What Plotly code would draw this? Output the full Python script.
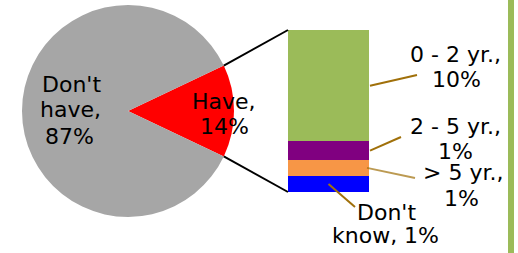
import math
import plotly.graph_objects as go

# ---- data ----
pie_labels = ["Have", "Don't have"]
pie_values = [14.1, 86.0]
pie_text = ["Have,<br>14%", "Don't<br>have,<br>87%"]
pie_colors = ["#FF0000", "#A6A6A6"]

bar_labels = ["Don't know", "> 5 yr.", "2 - 5 yr.", "0 - 2 yr."]
bar_values = [1.4, 1.4, 1.6, 9.7]
bar_text = ["Don't<br>know, 1%", "> 5 yr.,<br>1%", "2 - 5 yr.,<br>1%", "0 - 2 yr.,<br>10%"]
bar_colors = ["#0000FF", "#F79646", "#800080", "#9BBB59"]

W, H = 518, 253
FONT = dict(family="DejaVu Sans, Verdana, sans-serif", size=22, color="#000000")

def px(x):
    return x / W

def py(y):
    return 1 - y / H

# layout geometry (pixels)
cx, cy, R = 128, 111, 106
bx0, bx1, by_top, by_bot = 288, 369, 30, 192

total = sum(pie_values)
half = 360 * pie_values[0] / total / 2

fig = go.Figure()
fig.add_trace(go.Pie(
    labels=pie_labels, values=pie_values, sort=False, direction="clockwise",
    rotation=90 - half, marker=dict(colors=pie_colors), textinfo="none",
    hoverinfo="label+percent", showlegend=False,
    domain=dict(x=[px(cx - R), px(cx + R)], y=[py(cy + R), py(cy - R)]),
))

for lab, v, c in zip(bar_labels, bar_values, bar_colors):
    fig.add_trace(go.Bar(x=[0], y=[v], name=lab, marker=dict(color=c, line=dict(width=0)),
                         width=1, showlegend=False, xaxis="x", yaxis="y"))

bar_total = sum(bar_values)

def bar_y(v):
    return by_bot - (by_bot - by_top) * v / bar_total

shapes = []
# connector lines pie -> bar
a = math.radians(half)
ex = cx + R * math.cos(a)
for sgn, ty in ((1, by_top), (-1, by_bot)):
    ey = cy - sgn * R * math.sin(a)
    shapes.append(dict(type="line", xref="paper", yref="paper",
                       x0=px(ex), y0=py(ey), x1=px(bx0), y1=py(ty),
                       line=dict(color="#000000", width=2)))

# leader lines
cum = 0
mids = []
for v in bar_values:
    mids.append(bar_y(cum + v / 2))
    cum += v

leader_ends = [(355, 207), (415, 178), (401, 137), (417, 75)]
leader_starts_x = [(bx0 + bx1) / 2, bx1 - 2, bx1 + 1, bx1 + 1]
leader_opacity = [1, 0.7, 1, 1]
for i in range(4):
    shapes.append(dict(type="line", xref="paper", yref="paper",
                       x0=px(leader_starts_x[i]), y0=py(mids[i]),
                       x1=px(leader_ends[i][0]), y1=py(leader_ends[i][1]),
                       opacity=leader_opacity[i],
                       line=dict(color="#A0700A", width=2)))

# green vertical bar on right
shapes.append(dict(type="rect", xref="paper", yref="paper",
                   x0=px(508), x1=px(514), y0=0, y1=1,
                   fillcolor="#9BBB59", line=dict(width=0)))

# label line positions (x, y per line)
bar_line_pos = [
    [(386.5, 212.5), (385, 235)],
    [(463, 172.5), (461.5, 198.5)],
    [(455.5, 126), (455, 151.5)],
    [(455.5, 54), (456.5, 79)],
]
pie_line_pos = [
    [(223.5, 101.5), (224, 126.5)],
    [(71, 84.5), (70.5, 110), (69.5, 136.5)],
]

annotations = []
def add_lines(text, poss):
    for t, (x, y) in zip(text.split("<br>"), poss):
        annotations.append(dict(text=t, x=px(x), y=py(y), xref="paper", yref="paper",
                                showarrow=False, xanchor="center", yanchor="middle",
                                align="center", font=FONT))

for t, p in zip(bar_text, bar_line_pos):
    add_lines(t, p)
for t, p in zip(pie_text, pie_line_pos):
    add_lines(t, p)

fig.update_layout(
    width=W, height=H, margin=dict(l=0, r=0, t=0, b=0),
    paper_bgcolor="#FFFFFF", plot_bgcolor="rgba(0,0,0,0)",
    barmode="stack", bargap=0,
    xaxis=dict(domain=[px(bx0), px(bx1)], range=[-0.5, 0.5], visible=False, fixedrange=True),
    yaxis=dict(domain=[py(by_bot), py(by_top)], range=[0, bar_total], visible=False, fixedrange=True),
    shapes=shapes, annotations=annotations, font=FONT,
)

fig.write_html("out.html", config={"displayModeBar": False},
               post_script="document.body.style.margin='0';document.body.style.overflow='hidden';")
